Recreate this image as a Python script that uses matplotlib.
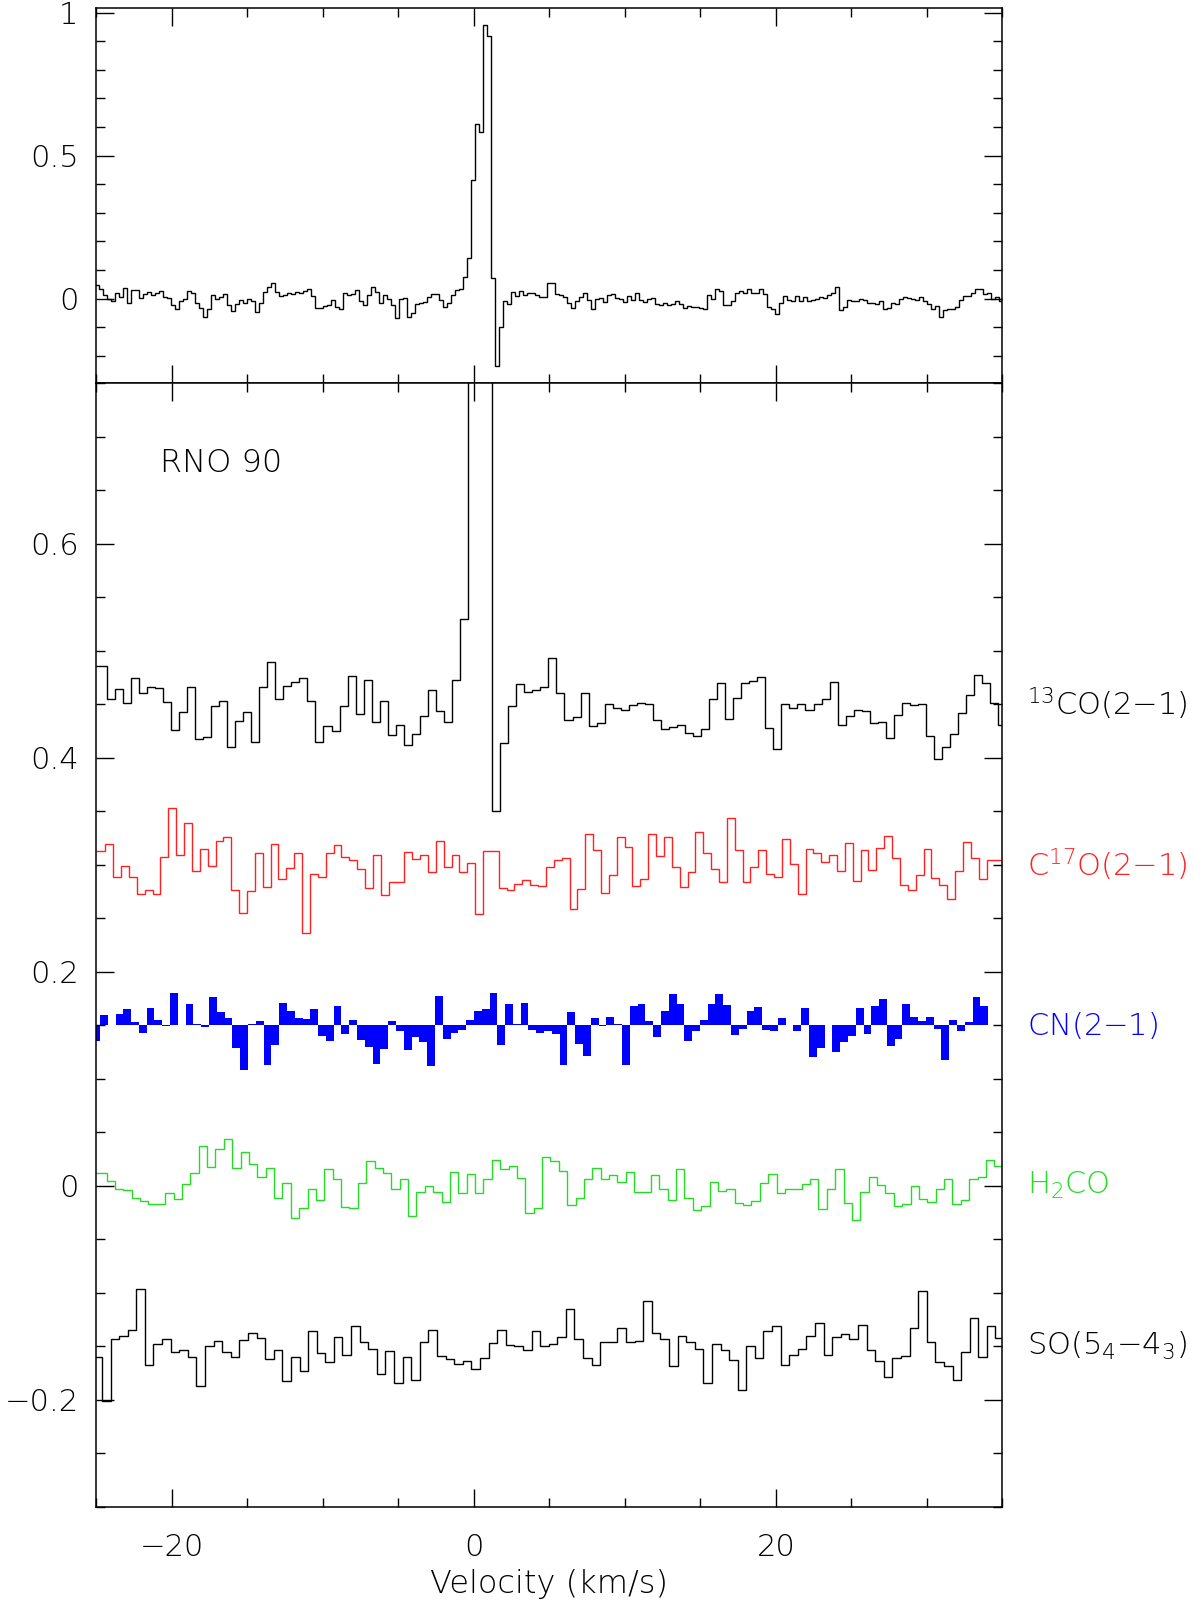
import numpy as np
import matplotlib
matplotlib.use("Agg")
import matplotlib.pyplot as plt
import matplotlib.transforms as mtransforms
from matplotlib.ticker import MultipleLocator, FuncFormatter

plt.rcParams['font.family'] = ['DejaVu Sans']
plt.rcParams['font.weight'] = 'light'
plt.rcParams['axes.labelweight'] = 'light'
plt.rcParams['mathtext.default'] = 'regular'

VMIN, VMAX = -25.0, 35.0

# ---- top panel spectrum (first channel left edge, channel width in km/s)
top_v0, top_dv = -25.12, 0.2649
top_spec = [
    0.049, 0.033, 0.014, 0.000, -0.009, 0.021, 0.005, 0.037, -0.014, 0.030,
    0.030, 0.002, 0.016, 0.023, 0.014, 0.019, 0.028, 0.007, 0.002, -0.023,
    -0.037, -0.009, 0.000, 0.028, 0.021, -0.014, -0.033, -0.065, -0.035, 0.014,
    -0.002, 0.005, 0.016, -0.021, -0.044, -0.019, -0.005, -0.014, 0.000, -0.009,
    -0.047, -0.016, 0.023, 0.042, 0.056, 0.023, 0.009, 0.014, 0.019, 0.016,
    0.023, 0.021, 0.026, 0.033, 0.009, -0.033, -0.033, -0.026, -0.021, -0.005,
    -0.028, -0.035, 0.019, 0.012, 0.016, 0.030, -0.009, -0.021, 0.012, 0.042,
    0.023, -0.014, 0.012, 0.000, -0.021, -0.068, 0.000, 0.002, -0.063,
    -0.049, -0.019, -0.014, -0.012, 0.007, 0.016, 0.016, -0.005,
    -0.030, -0.014, 0.014, 0.030, 0.033, 0.077, 0.142, 0.415, 0.611, 0.583,
    0.956, 0.918, 0.072, -0.235, -0.098, -0.009, -0.018,
    0.023, 0.009, 0.026, 0.014, 0.019, 0.021, 0.014, 0.005, 0.007, 0.056,
    0.054, 0.016, 0.012, 0.007, -0.014, -0.033, -0.009, 0.005, 0.021, -0.005,
    -0.037, -0.002, 0.002, -0.012, 0.014, 0.016, 0.002, -0.002, -0.012, 0.009,
    -0.005, 0.021, -0.005, -0.012, 0.000, 0.002, -0.019, -0.023, -0.016, -0.023,
    -0.019, -0.007, -0.019, -0.033, -0.026, -0.028, -0.030, -0.033, -0.035, 0.014,
    0.000, 0.035,
    0.028, -0.021, -0.021, -0.009, 0.021, 0.026, 0.021, 0.033, 0.019, 0.021,
    0.033, 0.016, -0.030, -0.037, -0.054, -0.014, 0.009, -0.005, -0.009, 0.009,
    -0.009, 0.007, -0.009, -0.005, -0.002, 0.005, 0.002, 0.014, 0.021, 0.040,
    -0.040, -0.030, -0.005, -0.009, -0.007, -0.002, -0.005, -0.014, -0.014, -0.019,
    -0.007, -0.037, -0.033, -0.014, -0.019, 0.000, 0.005, 0.002, 0.000, -0.005,
    0.007, -0.007, -0.019, -0.037, -0.026, -0.063, -0.040, -0.035, -0.035, -0.030,
    -0.005, 0.009, 0.009, 0.021, 0.033, 0.035, 0.016, 0.019, 0.000, 0.007,
    -0.009,
]

# ---- bottom panel spectra (already offset in the plot)
co13_v0, co13_dv = -24.862, 0.532
co13 = [
    0.486, 0.455, 0.464, 0.451, 0.474, 0.460, 0.466, 0.465, 0.452, 0.426,
    0.443, 0.466, 0.417, 0.419, 0.448, 0.453, 0.410, 0.434, 0.443, 0.415,
    0.466, 0.489, 0.455, 0.467, 0.471, 0.474, 0.453, 0.415, 0.430, 0.425,
    0.448, 0.476, 0.441, 0.473, 0.433, 0.453, 0.421, 0.431, 0.412, 0.422,
    0.439, 0.463, 0.444, 0.433, 0.473, 0.530, 0.950, 1.050, 0.900, 0.350,
    0.414, 0.448, 0.469, 0.461, 0.463, 0.466, 0.493, 0.460, 0.435, 0.438,
    0.460, 0.430, 0.432, 0.450, 0.446, 0.445, 0.449, 0.451, 0.450, 0.435,
    0.427, 0.429, 0.431, 0.423, 0.420, 0.427, 0.455, 0.470, 0.436, 0.456,
    0.470, 0.472, 0.475, 0.428, 0.408, 0.450, 0.446, 0.450, 0.445, 0.450,
    0.455, 0.471, 0.431, 0.439, 0.445, 0.444, 0.432, 0.433, 0.418, 0.440,
    0.451, 0.449, 0.450, 0.420, 0.399, 0.410, 0.422, 0.442, 0.459, 0.477,
    0.470, 0.451, 0.431,
]

c17o_v0, c17o_dv = -24.931, 0.521
c17o = [
    0.313, 0.319, 0.289, 0.299, 0.289, 0.273, 0.276, 0.273, 0.307, 0.353,
    0.309, 0.339, 0.294, 0.315, 0.299, 0.322, 0.326, 0.276, 0.255, 0.275,
    0.311, 0.279, 0.319, 0.287, 0.297, 0.311, 0.236, 0.291, 0.289, 0.311,
    0.318, 0.307, 0.304, 0.296, 0.278, 0.309, 0.272, 0.284, 0.284, 0.312,
    0.305, 0.309, 0.293, 0.322, 0.298, 0.309, 0.293, 0.302, 0.254, 0.313,
    0.313, 0.278, 0.276, 0.282, 0.286, 0.281, 0.280, 0.298, 0.304, 0.306,
    0.259, 0.277, 0.329, 0.314, 0.274, 0.290, 0.326, 0.317, 0.280, 0.287,
    0.329, 0.308, 0.326, 0.298, 0.279, 0.293, 0.331, 0.311, 0.296, 0.284,
    0.344, 0.314, 0.284, 0.298, 0.314, 0.291, 0.289, 0.324, 0.301, 0.273,
    0.315, 0.311, 0.303, 0.309, 0.294, 0.320, 0.285, 0.314, 0.295, 0.316,
    0.327, 0.306, 0.281, 0.276, 0.290, 0.315, 0.288, 0.281, 0.268, 0.294,
    0.321, 0.306, 0.287, 0.304, 0.304,
]

cn_v0, cn_dv = -25.286, 0.516
cn_base = 0.15
cn = [
    0.135, 0.160, 0.150, 0.161, 0.165, 0.153, 0.143, 0.166, 0.155, 0.149,
    0.180, 0.150, 0.170, 0.151, 0.148, 0.176, 0.162, 0.157, 0.129, 0.108,
    0.151, 0.154, 0.113, 0.132, 0.171, 0.163, 0.157, 0.156, 0.165, 0.140,
    0.135, 0.168, 0.142, 0.155, 0.136, 0.130, 0.114, 0.128, 0.154, 0.145,
    0.127, 0.139, 0.134, 0.112, 0.177, 0.137, 0.143, 0.146, 0.155, 0.163,
    0.165, 0.180, 0.132, 0.170, 0.151, 0.171, 0.146, 0.143, 0.145, 0.142,
    0.113, 0.162, 0.133, 0.121, 0.157, 0.149, 0.158, 0.151, 0.113, 0.168,
    0.170, 0.154, 0.139, 0.163, 0.179, 0.170, 0.135, 0.145, 0.155, 0.170,
    0.179, 0.169, 0.141, 0.147, 0.163, 0.167, 0.146, 0.145, 0.157, 0.150,
    0.145, 0.166, 0.120, 0.129, 0.150, 0.125, 0.134, 0.140, 0.166, 0.142,
    0.168, 0.175, 0.131, 0.137, 0.170, 0.158, 0.154, 0.158, 0.147, 0.118,
    0.155, 0.145, 0.153, 0.176, 0.168, 0.150, 0.149,
]

h2co_v0, h2co_dv = -24.885, 0.5546
h2co = [
    0.012,
    0.005, -0.003, -0.004, -0.011, -0.014, -0.017, -0.017, -0.007, -0.012, 0.002,
    0.012, 0.037, 0.018, 0.034, 0.044, 0.017, 0.032, 0.020, 0.008, 0.017,
    -0.011, 0.003, -0.030, -0.021, -0.003, -0.013, 0.016, 0.006, -0.020, -0.021,
    0.003, 0.023, 0.017, 0.012, -0.003, 0.006, -0.028,
    -0.006, 0.000, -0.006, -0.015, 0.013, -0.007, 0.011, -0.007, 0.006, 0.024,
    0.016, 0.019, 0.007, -0.025, -0.021, 0.027, 0.023, 0.014, -0.018, -0.011,
    0.006, 0.017, 0.006, 0.010, 0.004, 0.013, -0.006, -0.006, 0.010, -0.003,
    -0.013, 0.016, -0.011, -0.023, -0.019, 0.004,
    -0.005, -0.003, -0.016, -0.018, -0.014, 0.003, 0.011, -0.007, -0.003, -0.003,
    0.002, 0.006, -0.022, -0.003, 0.016, -0.016, -0.032, -0.006, 0.008, 0.001,
    -0.007, -0.019, -0.017, 0.000, -0.012, -0.015, -0.003, 0.006, -0.017, -0.013,
    0.006, 0.008, 0.024, 0.019,
]

so_v0, so_dv = -25.209, 0.569
so = [
    -0.160, -0.201, -0.143, -0.140, -0.135, -0.096, -0.167, -0.148, -0.143, -0.155,
    -0.153, -0.160, -0.187, -0.150, -0.145, -0.155, -0.160, -0.144, -0.137, -0.142,
    -0.162, -0.153, -0.182, -0.160, -0.173, -0.136, -0.156, -0.165, -0.141, -0.158,
    -0.131, -0.146, -0.152, -0.176, -0.154, -0.184, -0.160, -0.181, -0.146, -0.135,
    -0.159, -0.162, -0.166, -0.164, -0.171, -0.161, -0.147, -0.135, -0.149, -0.150,
    -0.153, -0.136, -0.150, -0.148, -0.141, -0.115, -0.143, -0.161, -0.167, -0.146,
    -0.146, -0.133, -0.146, -0.145, -0.108, -0.137, -0.143, -0.168, -0.140, -0.146,
    -0.152, -0.184, -0.148, -0.153, -0.163, -0.191, -0.150, -0.161, -0.136, -0.131,
    -0.167, -0.158, -0.152, -0.140, -0.128, -0.158, -0.141, -0.138, -0.143, -0.130,
    -0.153, -0.164, -0.179, -0.161, -0.159, -0.133, -0.098, -0.146, -0.165, -0.168,
    -0.181, -0.155, -0.123, -0.160, -0.131, -0.142,
]

# label, level, colour for the right-hand annotations
line_names = [r'$^{13}$CO(2$-$1)', r'C$^{17}$O(2$-$1)', r'CN(2$-$1)',
              r'H$_2$CO', r'SO(5$_4$$-$4$_3$)']
line_levels = [0.45, 0.30, 0.15, 0.0, -0.15]
line_colors = ['black', '#ff2020', '#0000ff', '#22dd22', 'black']


def channel_edges(v0, dv, n):
    e = v0 + dv * np.arange(n + 1)
    e[0] = min(e[0], VMIN)
    e[-1] = max(e[-1], VMAX)
    return e


def fmt(v, pos):
    v = round(v, 3) + 0.0
    return f"{v:g}".replace('-', '\u2212')


def style_axes(ax, ymajor, yminor):
    ax.set_xlim(VMIN, VMAX)
    ax.xaxis.set_major_locator(MultipleLocator(20))
    ax.xaxis.set_minor_locator(MultipleLocator(5))
    ax.yaxis.set_major_locator(MultipleLocator(ymajor))
    ax.yaxis.set_minor_locator(MultipleLocator(yminor))
    ax.yaxis.set_major_formatter(FuncFormatter(fmt))
    ax.xaxis.set_major_formatter(FuncFormatter(fmt))
    ax.tick_params(which='both', direction='in', top=True, right=True,
                   width=1.0, labelsize=22)
    ax.tick_params(axis='y', pad=13)
    ax.tick_params(axis='x', pad=19)
    ax.tick_params(which='major', length=13)
    ax.tick_params(which='minor', length=6.5)
    for sp in ax.spines.values():
        sp.set_linewidth(1.1)


fig = plt.figure(figsize=(12, 16.02), dpi=100)
ax_top = fig.add_axes([0.0804, 0.7609, 0.755, 0.2341])
ax_bot = fig.add_axes([0.0804, 0.0593, 0.755, 0.7016])

# top panel
ax_top.stairs(top_spec, channel_edges(top_v0, top_dv, len(top_spec)),
              baseline=None, color='black', lw=1.0)
ax_top.set_ylim(-0.295, 1.016)
style_axes(ax_top, 0.5, 0.1)
ax_top.tick_params(labelbottom=False)

# bottom panel
ax_bot.stairs(co13, channel_edges(co13_v0, co13_dv, len(co13)),
              baseline=None, color='black', lw=1.0)
ax_bot.stairs(c17o, channel_edges(c17o_v0, c17o_dv, len(c17o)),
              baseline=None, color=line_colors[1], lw=1.0)
cn_edges = channel_edges(cn_v0, cn_dv, len(cn))
ax_bot.stairs(cn, cn_edges, baseline=cn_base, fill=True,
              color=line_colors[2], lw=1.0)
ax_bot.stairs(h2co, channel_edges(h2co_v0, h2co_dv, len(h2co)),
              baseline=None, color=line_colors[3], lw=1.0)
ax_bot.stairs(so, channel_edges(so_v0, so_dv, len(so)),
              baseline=None, color='black', lw=1.0)

ax_bot.set_ylim(-0.3, 0.75)
style_axes(ax_bot, 0.2, 0.05)
ax_bot.set_xlabel('Velocity (km/s)', fontsize=23, fontweight='light',
                  labelpad=5)

ax_bot.text(-20.8, 0.675, 'RNO 90', fontsize=23, ha='left', va='center')

trans = mtransforms.blended_transform_factory(ax_bot.transAxes, ax_bot.transData)
for name, lev, col in zip(line_names, line_levels, line_colors):
    ax_bot.text(1.027, lev, name, color=col, fontsize=22, ha='left',
                va='center', transform=trans, clip_on=False)

fig.savefig('out.png', dpi=100)
